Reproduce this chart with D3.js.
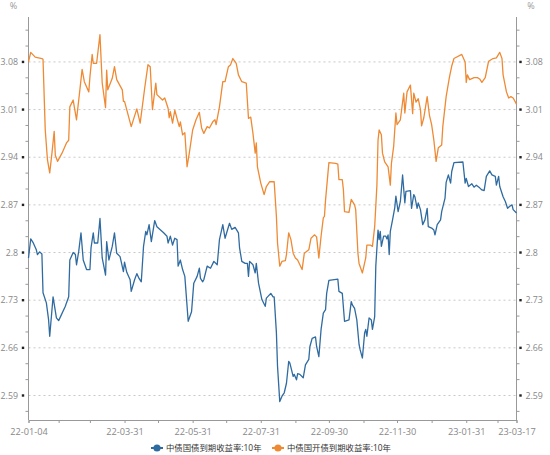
<!DOCTYPE html>
<html lang="zh">
<head>
<meta charset="utf-8">
<title>中债国债与国开债到期收益率 10年</title>
<script src="https://cdnjs.cloudflare.com/ajax/libs/d3/7.8.5/d3.min.js"></script>
<style>
  body { margin: 0; background: #fff; }
  svg text { font-family: "Open Sans", "Noto Sans CJK SC", sans-serif; }
</style>
</head>
<body>
<div id="chart"></div>
<script>
// 中债国开债到期收益率:10年
const kaiDates = ['2022-01-04','2022-01-06','2022-01-10','2022-01-16','2022-01-17','2022-01-19','2022-01-21','2022-01-23','2022-01-25','2022-01-27','2022-01-28','2022-01-30','2022-02-03','2022-02-07','2022-02-09','2022-02-10','2022-02-13','2022-02-16','2022-02-19','2022-02-21','2022-02-23','2022-02-27','2022-02-28','2022-03-02','2022-03-03','2022-03-06','2022-03-09','2022-03-11','2022-03-14','2022-03-15','2022-03-16','2022-03-20','2022-03-22','2022-03-24','2022-03-29','2022-03-30','2022-03-31','2022-04-06','2022-04-11','2022-04-14','2022-04-18','2022-04-21','2022-04-23','2022-04-25','2022-04-28','2022-04-29','2022-05-04','2022-05-06','2022-05-09','2022-05-10','2022-05-11','2022-05-13','2022-05-15','2022-05-19','2022-05-20','2022-05-22','2022-05-24','2022-05-26','2022-05-28','2022-05-31','2022-06-03','2022-06-06','2022-06-08','2022-06-10','2022-06-13','2022-06-15','2022-06-18','2022-06-20','2022-06-21','2022-06-24','2022-06-27','2022-06-29','2022-07-02','2022-07-04','2022-07-06','2022-07-09','2022-07-11','2022-07-14','2022-07-18','2022-07-20','2022-07-22','2022-07-24','2022-07-26','2022-07-27','2022-07-28','2022-07-31','2022-08-03','2022-08-05','2022-08-08','2022-08-11','2022-08-12','2022-08-14','2022-08-15','2022-08-17','2022-08-19','2022-08-22','2022-08-23','2022-08-25','2022-08-27','2022-08-29','2022-08-31','2022-09-02','2022-09-06','2022-09-08','2022-09-12','2022-09-14','2022-09-17','2022-09-19','2022-09-21','2022-09-23','2022-09-25','2022-09-26','2022-09-27','2022-09-30','2022-10-06','2022-10-08','2022-10-09','2022-10-12','2022-10-13','2022-10-14','2022-10-18','2022-10-20','2022-10-23','2022-10-24','2022-10-26','2022-10-27','2022-10-30','2022-11-02','2022-11-03','2022-11-06','2022-11-08','2022-11-10','2022-11-12','2022-11-13','2022-11-14','2022-11-16','2022-11-17','2022-11-19','2022-11-22','2022-11-24','2022-11-25','2022-11-27','2022-11-29','2022-11-30','2022-12-03','2022-12-06','2022-12-07','2022-12-09','2022-12-12','2022-12-14','2022-12-15','2022-12-17','2022-12-19','2022-12-21','2022-12-22','2022-12-24','2022-12-27','2022-12-29','2022-12-31','2023-01-02','2023-01-04','2023-01-06','2023-01-09','2023-01-10','2023-01-13','2023-01-16','2023-01-18','2023-01-20','2023-01-27','2023-01-30','2023-01-31','2023-02-01','2023-02-03','2023-02-07','2023-02-10','2023-02-12','2023-02-14','2023-02-17','2023-02-20','2023-02-24','2023-02-27','2023-03-02','2023-03-04','2023-03-05','2023-03-08','2023-03-10','2023-03-12','2023-03-14','2023-03-17'];
const kaiValues = [3.080,3.094,3.087,3.085,3.084,2.980,2.936,2.917,2.946,2.978,2.943,2.934,2.946,2.961,2.965,3.014,3.024,2.995,3.039,3.069,3.051,3.036,3.058,3.091,3.078,3.078,3.120,3.049,3.013,3.068,3.039,3.056,3.073,3.054,3.039,3.022,3.022,2.985,3.011,2.990,3.041,3.076,3.073,3.010,3.049,3.032,3.024,3.027,3.012,2.998,3.007,2.990,3.009,2.985,2.992,2.973,2.976,2.926,2.946,2.980,2.995,3.006,2.983,2.975,2.985,2.983,2.992,2.995,2.988,3.014,3.051,3.051,3.073,3.076,3.085,3.078,3.061,3.051,3.049,2.997,2.999,2.975,2.946,2.961,2.926,2.902,2.885,2.897,2.904,2.904,2.904,2.853,2.814,2.780,2.787,2.788,2.797,2.829,2.819,2.799,2.792,2.789,2.775,2.799,2.804,2.821,2.826,2.823,2.792,2.824,2.851,2.853,2.877,2.932,2.931,2.930,2.907,2.907,2.892,2.860,2.859,2.878,2.870,2.863,2.799,2.784,2.770,2.792,2.811,2.811,2.809,2.838,2.899,2.965,2.980,2.973,2.946,2.933,2.926,2.899,2.931,2.956,3.005,2.988,2.995,3.034,3.005,3.036,3.046,3.004,3.034,3.021,3.026,3.010,2.986,2.998,3.029,3.002,2.988,2.965,2.934,2.954,2.958,2.985,3.029,3.058,3.074,3.085,3.091,3.080,3.050,3.061,3.054,3.057,3.057,3.055,3.050,3.057,3.081,3.085,3.086,3.094,3.085,3.061,3.036,3.027,3.029,3.027,3.018];

// 中债国债到期收益率:10年
const guoDates = ['2022-01-04','2022-01-06','2022-01-08','2022-01-11','2022-01-12','2022-01-14','2022-01-16','2022-01-17','2022-01-20','2022-01-22','2022-01-23','2022-01-26','2022-01-29','2022-01-31','2022-02-06','2022-02-07','2022-02-09','2022-02-10','2022-02-13','2022-02-15','2022-02-16','2022-02-18','2022-02-20','2022-02-22','2022-02-25','2022-02-28','2022-03-01','2022-03-03','2022-03-04','2022-03-07','2022-03-09','2022-03-11','2022-03-14','2022-03-15','2022-03-17','2022-03-20','2022-03-22','2022-03-24','2022-03-27','2022-03-30','2022-03-31','2022-04-02','2022-04-05','2022-04-06','2022-04-09','2022-04-11','2022-04-13','2022-04-15','2022-04-17','2022-04-19','2022-04-20','2022-04-22','2022-04-24','2022-04-27','2022-04-29','2022-05-05','2022-05-08','2022-05-09','2022-05-11','2022-05-13','2022-05-15','2022-05-17','2022-05-18','2022-05-20','2022-05-22','2022-05-24','2022-05-26','2022-05-27','2022-05-30','2022-06-01','2022-06-04','2022-06-06','2022-06-07','2022-06-09','2022-06-10','2022-06-13','2022-06-16','2022-06-19','2022-06-22','2022-06-24','2022-06-27','2022-06-29','2022-07-03','2022-07-05','2022-07-08','2022-07-11','2022-07-12','2022-07-14','2022-07-17','2022-07-19','2022-07-20','2022-07-21','2022-07-24','2022-07-26','2022-07-27','2022-07-29','2022-08-01','2022-08-04','2022-08-05','2022-08-09','2022-08-11','2022-08-12','2022-08-14','2022-08-15','2022-08-17','2022-08-19','2022-08-21','2022-08-23','2022-08-25','2022-08-26','2022-08-29','2022-08-30','2022-09-01','2022-09-02','2022-09-04','2022-09-07','2022-09-09','2022-09-12','2022-09-13','2022-09-15','2022-09-18','2022-09-19','2022-09-21','2022-09-23','2022-09-25','2022-09-27','2022-09-28','2022-09-30','2022-10-08','2022-10-09','2022-10-12','2022-10-14','2022-10-18','2022-10-20','2022-10-21','2022-10-23','2022-10-25','2022-10-27','2022-10-28','2022-10-30','2022-11-01','2022-11-02','2022-11-03','2022-11-05','2022-11-07','2022-11-08','2022-11-10','2022-11-11','2022-11-13','2022-11-14','2022-11-15','2022-11-16','2022-11-18','2022-11-20','2022-11-21','2022-11-22','2022-11-23','2022-11-24','2022-11-26','2022-11-28','2022-11-29','2022-12-01','2022-12-03','2022-12-05','2022-12-07','2022-12-08','2022-12-12','2022-12-13','2022-12-15','2022-12-16','2022-12-18','2022-12-19','2022-12-21','2022-12-23','2022-12-25','2022-12-27','2022-12-28','2022-12-31','2023-01-02','2023-01-03','2023-01-05','2023-01-08','2023-01-09','2023-01-12','2023-01-13','2023-01-15','2023-01-17','2023-01-18','2023-01-20','2023-01-28','2023-01-30','2023-01-31','2023-02-02','2023-02-05','2023-02-07','2023-02-09','2023-02-12','2023-02-14','2023-02-16','2023-02-18','2023-02-21','2023-02-23','2023-02-26','2023-02-27','2023-03-01','2023-03-02','2023-03-05','2023-03-07','2023-03-09','2023-03-11','2023-03-13','2023-03-14','2023-03-17'];
const guoValues = [2.792,2.820,2.815,2.804,2.797,2.801,2.798,2.741,2.726,2.701,2.677,2.735,2.704,2.700,2.721,2.726,2.735,2.789,2.800,2.797,2.782,2.802,2.829,2.789,2.775,2.775,2.807,2.829,2.814,2.814,2.850,2.792,2.767,2.816,2.789,2.809,2.829,2.799,2.794,2.772,2.786,2.771,2.760,2.743,2.760,2.769,2.762,2.757,2.809,2.831,2.826,2.841,2.816,2.847,2.838,2.829,2.824,2.814,2.824,2.811,2.821,2.819,2.780,2.789,2.775,2.765,2.721,2.699,2.713,2.755,2.765,2.777,2.762,2.757,2.760,2.780,2.777,2.787,2.782,2.819,2.841,2.821,2.843,2.834,2.837,2.829,2.807,2.787,2.784,2.784,2.765,2.787,2.782,2.770,2.784,2.755,2.731,2.721,2.733,2.740,2.735,2.735,2.682,2.633,2.581,2.589,2.594,2.608,2.640,2.638,2.618,2.621,2.613,2.622,2.621,2.616,2.635,2.643,2.662,2.674,2.676,2.662,2.647,2.687,2.711,2.716,2.740,2.759,2.761,2.743,2.740,2.699,2.701,2.728,2.723,2.718,2.701,2.665,2.657,2.645,2.682,2.687,2.677,2.704,2.701,2.687,2.706,2.780,2.833,2.819,2.831,2.809,2.824,2.824,2.820,2.826,2.797,2.831,2.848,2.866,2.883,2.860,2.875,2.914,2.873,2.890,2.891,2.865,2.885,2.882,2.865,2.873,2.863,2.841,2.848,2.865,2.838,2.836,2.833,2.826,2.841,2.848,2.860,2.880,2.903,2.914,2.902,2.919,2.932,2.933,2.902,2.909,2.897,2.901,2.896,2.899,2.895,2.892,2.891,2.912,2.920,2.914,2.912,2.899,2.912,2.897,2.882,2.875,2.865,2.868,2.870,2.863,2.858];

const seriesNames = ['中债国债到期收益率:10年', '中债国开债到期收益率:10年'];
const seriesColors = ['#2f6ba0', '#ef8a34'];

// axis ticks
const xTickDates = ['2022-01-04','2022-01-31','2022-02-28','2022-03-31','2022-04-30','2022-05-31','2022-06-30','2022-07-31','2022-08-31','2022-09-30','2022-10-31','2022-11-30','2022-12-31','2023-01-31','2023-02-28','2023-03-17'];
const xLabelDates = ['2022-01-04','2022-03-31','2022-05-31','2022-07-31','2022-09-30','2022-11-30','2023-01-31','2023-03-17'];
const yMajorTicks = [2.59, 2.66, 2.73, 2.8, 2.87, 2.94, 3.01, 3.08];

const w = 550, h = 455;
const padL = 28.5, padR = 516.5, padT = 17, padB = 420;
const parse = d3.timeParse('%Y-%m-%d');
const fmt = d3.timeFormat('%y-%m-%d');
const iso = d3.timeFormat('%Y-%m-%d');

const svg = d3.select('#chart').append('svg')
  .attr('width', w).attr('height', h);

const xScale = d3.scaleTime()
  .domain([parse('2022-01-04'), parse('2023-03-17')])
  .range([padL, padR]);
const yScale = d3.scaleLinear()
  .domain([2.554, 3.146])
  .range([padB, padT]);

// minor ticks every third of a major step
const step = 0.07 / 3;
const minorTicks = [];
for (let k = -1; k <= 25; k++) {
  const v = 2.59 + k * step;
  if (v >= 2.554 && v <= 3.146 && k % 3 !== 0) minorTicks.push(v);
}

// gridlines
svg.append('g').selectAll('line')
  .data(yMajorTicks).enter().append('line')
  .attr('x1', padL).attr('x2', padR)
  .attr('y1', d => yScale(d)).attr('y2', d => yScale(d))
  .attr('stroke', '#c8c8c8').attr('stroke-width', 1)
  .attr('stroke-dasharray', '2,3');

// left axis
const leftAxis = svg.append('g').attr('id', 'y-axis-left');
leftAxis.append('line')
  .attr('x1', padL).attr('x2', padL).attr('y1', padT).attr('y2', padB)
  .attr('stroke', '#999');
leftAxis.selectAll('.minor').data(minorTicks).enter().append('line')
  .attr('class', 'minor')
  .attr('x1', padL - 3).attr('x2', padL)
  .attr('y1', d => yScale(d)).attr('y2', d => yScale(d))
  .attr('stroke', '#999');
leftAxis.selectAll('rect').data(yMajorTicks).enter().append('rect')
  .attr('x', 21.8).attr('y', d => yScale(d) - 1.2)
  .attr('width', 2.4).attr('height', 2.4).attr('fill', '#222');
leftAxis.selectAll('text').data(yMajorTicks).enter().append('text')
  .attr('x', 18).attr('y', d => yScale(d))
  .attr('dy', '0.35em').attr('text-anchor', 'end')
  .attr('font-size', 8.8).attr('fill', '#888')
  .text(d => d);

// right axis, same scale
const rightAxis = svg.append('g').attr('id', 'y-axis-right');
rightAxis.append('line')
  .attr('x1', padR).attr('x2', padR).attr('y1', padT).attr('y2', padB)
  .attr('stroke', '#999');
rightAxis.selectAll('.minor').data(minorTicks).enter().append('line')
  .attr('class', 'minor')
  .attr('x1', padR).attr('x2', padR + 3)
  .attr('y1', d => yScale(d)).attr('y2', d => yScale(d))
  .attr('stroke', '#999');
rightAxis.selectAll('rect').data(yMajorTicks).enter().append('rect')
  .attr('x', 519.3).attr('y', d => yScale(d) - 1.2)
  .attr('width', 2.4).attr('height', 2.4).attr('fill', '#222');
rightAxis.selectAll('text').data(yMajorTicks).enter().append('text')
  .attr('x', 525.5).attr('y', d => yScale(d))
  .attr('dy', '0.35em').attr('text-anchor', 'start')
  .attr('font-size', 8.8).attr('fill', '#888')
  .text(d => d);

// unit labels
svg.append('text').attr('x', 13.5).attr('y', 9).attr('text-anchor', 'middle')
  .attr('font-size', 9).attr('fill', '#999').text('%');
svg.append('text').attr('x', 531).attr('y', 9).attr('text-anchor', 'middle')
  .attr('font-size', 9).attr('fill', '#999').text('%');

// x axis
const xAxis = d3.axisBottom(xScale)
  .tickValues(xTickDates.map(parse))
  .tickSize(3)
  .tickFormat(d => xLabelDates.includes(iso(d)) ? fmt(d) : '');
const gx = svg.append('g')
  .attr('id', 'x-axis')
  .attr('transform', 'translate(0,' + padB + ')')
  .call(xAxis);
gx.select('.domain').attr('stroke', '#999');
gx.selectAll('.tick line').attr('stroke', '#999');
gx.selectAll('.tick text')
  .attr('font-size', 9.2).attr('fill', '#888').attr('dy', '1em')
  .attr('font-family', '"Open Sans", sans-serif');

// lines
const line = d3.line()
  .x(d => xScale(d.date))
  .y(d => yScale(d.value));

const guo = guoDates.map((d, i) => ({date: parse(d), value: guoValues[i]}));
const kai = kaiDates.map((d, i) => ({date: parse(d), value: kaiValues[i]}));

svg.append('path').datum(kai)
  .attr('fill', 'none').attr('stroke', seriesColors[1])
  .attr('stroke-width', 1.3).attr('stroke-linejoin', 'round')
  .attr('d', line);
svg.append('path').datum(guo)
  .attr('fill', 'none').attr('stroke', seriesColors[0])
  .attr('stroke-width', 1.3).attr('stroke-linejoin', 'round')
  .attr('d', line);

// legend
const legendX = [151, 272];
const legend = svg.append('g').attr('id', 'legend')
  .selectAll('g').data(seriesNames).enter().append('g')
  .attr('transform', (d, i) => 'translate(' + legendX[i] + ',448)');
legend.append('line')
  .attr('x1', 0).attr('x2', 12).attr('y1', 0).attr('y2', 0)
  .attr('stroke', (d, i) => seriesColors[i]).attr('stroke-width', 2);
legend.append('circle')
  .attr('cx', 6).attr('cy', 0).attr('r', 3.6)
  .attr('fill', (d, i) => seriesColors[i]);
legend.append('text')
  .attr('x', 15).attr('y', 0).attr('dy', '0.35em')
  .attr('font-size', 8.4).attr('fill', '#333')
  .attr('font-family', '"Noto Sans CJK SC", sans-serif')
  .text(d => d);
</script>
</body>
</html>
